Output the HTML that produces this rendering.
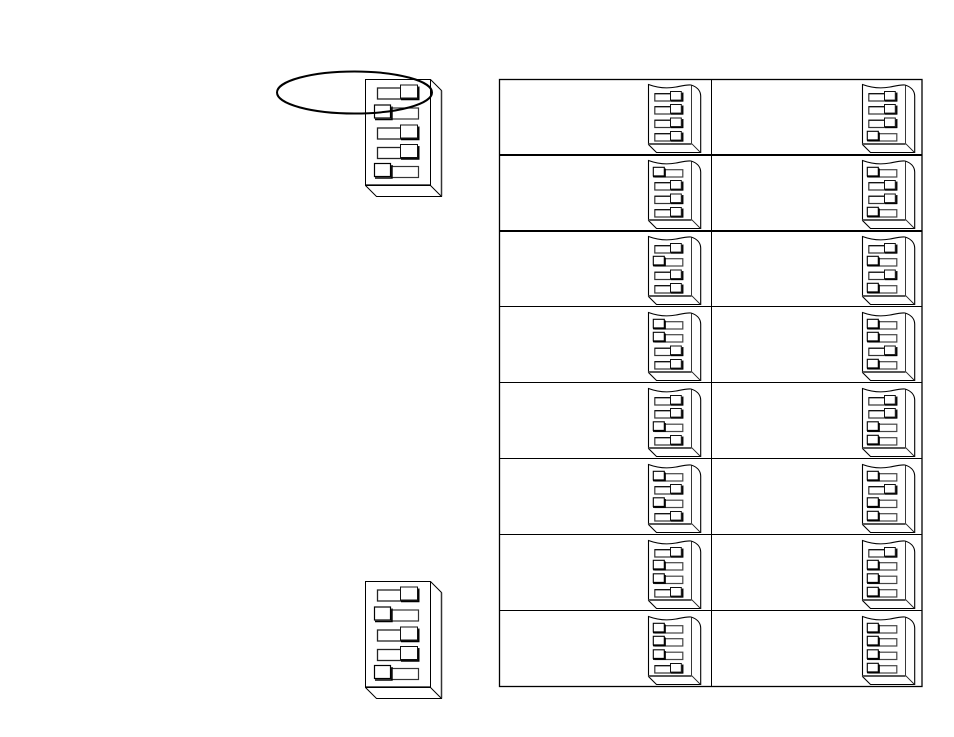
<!DOCTYPE html>
<html>
<head>
<meta charset="utf-8">
<style>
html,body{margin:0;padding:0;background:#fff;width:954px;height:737px;overflow:hidden}
svg{display:block}
</style>
</head>
<body>
<svg xmlns="http://www.w3.org/2000/svg" width="954" height="737" viewBox="0 0 954 737">
<defs>
  <g id="body" fill="none" stroke="#000" stroke-width="1">
    <path d="M648.5 84.5C658 88 668 88.5 676 87C682 85.8 687 84.5 691 85C696 86.5 700.5 90 700.7 96V152.5H656.5L648.5 144.5Z" fill="#fff" stroke-width="1.1"/>
    <path d="M691.5 85.5V143.5L700.5 152.5" stroke-width="0.9" stroke="#222"/>
    <path d="M648.5 144H691.5" stroke="#555" stroke-width="2"/>
  </g>
  <g id="R">
    <rect x="654.8" y="1.2" width="27.4" height="7.3" fill="#fff" stroke="#333" stroke-width="1.2"/>
    <path d="M654.8 1.2H670" fill="none" stroke="#000" stroke-width="1"/>
    <path d="M671 8.5H682.8V0" fill="none" stroke="#000" stroke-width="1.3"/>
    <rect x="670.5" y="-1" width="10.8" height="8.6" fill="#fff" stroke="#111" stroke-width="1"/>
  </g>
  <g id="L">
    <rect x="655" y="1.2" width="27.8" height="7.3" fill="#fff" stroke="#444" stroke-width="1.2"/>
    <path d="M653 8.2H665.2V0" fill="none" stroke="#000" stroke-width="1.3"/>
    <rect x="653.3" y="-1.2" width="11" height="8.6" fill="#fff" stroke="#000" stroke-width="1.1"/>
  </g>
  <g id="bigR">
    <rect x="377.5" y="0.5" width="41" height="11" fill="#fff" stroke="#222" stroke-width="1.3"/>
    <path d="M401 12H418.8V-1" fill="none" stroke="#000" stroke-width="1.4"/>
    <rect x="400.5" y="-2.5" width="17" height="13" fill="#fff" stroke="#111" stroke-width="1"/>
  </g>
  <g id="bigL">
    <rect x="391.5" y="0.5" width="27" height="11" fill="#fff" stroke="#333" stroke-width="1.2"/>
    <path d="M375 12H392V-1" fill="none" stroke="#000" stroke-width="1.4"/>
    <rect x="374.5" y="-2.5" width="16" height="13" fill="#fff" stroke="#000" stroke-width="1.2"/>
  </g>
  <g id="big">
    <path d="M365.5 79.5H430.5L441.5 90.5V196.5H376.5L365.5 185.5Z" fill="#fff" stroke="#000" stroke-width="1"/>
    <path d="M441.5 90.5V196.5" fill="none" stroke="#333" stroke-width="1.5"/>
    <path d="M365.5 185.5H430.5V79.5M430.5 185.5L441.5 196.5" fill="none" stroke="#000" stroke-width="1"/>
    <path d="M365.5 185.2H430.5" fill="none" stroke="#000" stroke-width="1.6"/>
    <use href="#bigR" y="87.5"/>
    <use href="#bigL" y="107.5"/>
    <use href="#bigR" y="127.5"/>
    <use href="#bigR" y="147"/>
    <use href="#bigL" y="166"/>
  </g>
</defs>

<!-- Standalone switches -->
<use href="#big"/>
<use href="#big" y="502"/>
<ellipse cx="354.5" cy="92.5" rx="77.5" ry="21" fill="none" stroke="#000" stroke-width="2"/>

<!-- Table -->
<g fill="none" stroke="#000">
  <rect x="499.5" y="79.5" width="422.5" height="607" stroke-width="1.3"/>
  <path d="M711.5 79.5V686.5" stroke-width="1"/>
  <path d="M499.5 155H922M499.5 231H922" stroke-width="2"/>
  <path d="M499.5 306.5H922M499.5 382.5H922M499.5 458.5H922M499.5 534.5H922M499.5 610.5H922" stroke-width="1"/>
</g>

<!-- Left column -->
<g><use href="#body"/><use href="#R" y="92.5"/><use href="#R" y="105.5"/><use href="#R" y="119"/><use href="#R" y="132.5"/></g>
<g transform="translate(0,76)"><use href="#body"/><use href="#L" y="92.5"/><use href="#R" y="105.5"/><use href="#R" y="119"/><use href="#R" y="132.5"/></g>
<g transform="translate(0,152)"><use href="#body"/><use href="#R" y="92.5"/><use href="#L" y="105.5"/><use href="#R" y="119"/><use href="#R" y="132.5"/></g>
<g transform="translate(0,228)"><use href="#body"/><use href="#L" y="92.5"/><use href="#L" y="105.5"/><use href="#R" y="119"/><use href="#R" y="132.5"/></g>
<g transform="translate(0,304)"><use href="#body"/><use href="#R" y="92.5"/><use href="#R" y="105.5"/><use href="#L" y="119"/><use href="#R" y="132.5"/></g>
<g transform="translate(0,380)"><use href="#body"/><use href="#L" y="92.5"/><use href="#R" y="105.5"/><use href="#L" y="119"/><use href="#R" y="132.5"/></g>
<g transform="translate(0,456)"><use href="#body"/><use href="#R" y="92.5"/><use href="#L" y="105.5"/><use href="#L" y="119"/><use href="#R" y="132.5"/></g>
<g transform="translate(0,532)"><use href="#body"/><use href="#L" y="92.5"/><use href="#L" y="105.5"/><use href="#L" y="119"/><use href="#R" y="132.5"/></g>

<!-- Right column -->
<g transform="translate(214,0)"><use href="#body"/><use href="#R" y="92.5"/><use href="#R" y="105.5"/><use href="#R" y="119"/><use href="#L" y="132.5"/></g>
<g transform="translate(214,76)"><use href="#body"/><use href="#L" y="92.5"/><use href="#R" y="105.5"/><use href="#R" y="119"/><use href="#L" y="132.5"/></g>
<g transform="translate(214,152)"><use href="#body"/><use href="#R" y="92.5"/><use href="#L" y="105.5"/><use href="#R" y="119"/><use href="#L" y="132.5"/></g>
<g transform="translate(214,228)"><use href="#body"/><use href="#L" y="92.5"/><use href="#L" y="105.5"/><use href="#R" y="119"/><use href="#L" y="132.5"/></g>
<g transform="translate(214,304)"><use href="#body"/><use href="#R" y="92.5"/><use href="#R" y="105.5"/><use href="#L" y="119"/><use href="#L" y="132.5"/></g>
<g transform="translate(214,380)"><use href="#body"/><use href="#L" y="92.5"/><use href="#R" y="105.5"/><use href="#L" y="119"/><use href="#L" y="132.5"/></g>
<g transform="translate(214,456)"><use href="#body"/><use href="#R" y="92.5"/><use href="#L" y="105.5"/><use href="#L" y="119"/><use href="#L" y="132.5"/></g>
<g transform="translate(214,532)"><use href="#body"/><use href="#L" y="92.5"/><use href="#L" y="105.5"/><use href="#L" y="119"/><use href="#L" y="132.5"/></g>
</svg>
</body>
</html>
